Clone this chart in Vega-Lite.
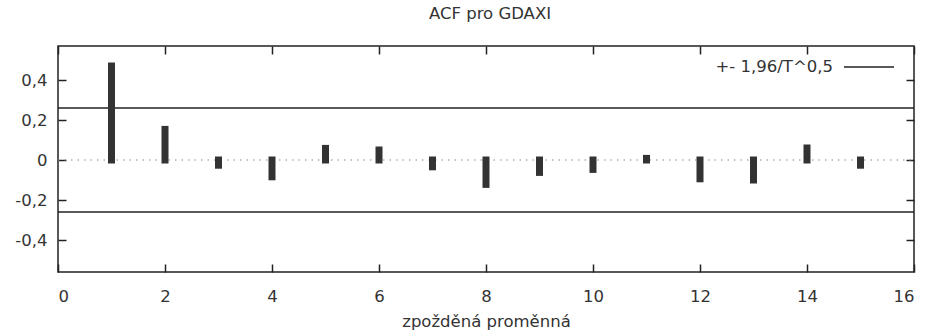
{
  "$schema": "https://vega.github.io/schema/vega-lite/v6.json",
  "width": 856,
  "height": 226,
  "autosize": "none",
  "padding": {"left": 58, "top": 46, "right": 17, "bottom": 63},
  "background": "white",
  "config": {
    "font": "DejaVu Sans",
    "view": {"stroke": "#222", "strokeWidth": 1.5},
    "axis": {"labelFont": "DejaVu Sans", "labelFontSize": 16.5, "labelColor": "#333", "titleFont": "DejaVu Sans", "titleFontSize": 16.5, "titleFontWeight": "normal", "titleColor": "#333", "tickColor": "#222", "tickWidth": 1.5, "tickSize": 8, "grid": false, "domain": false, "ticks": true, "zindex": 1}
  },
  "title": {"text": "ACF pro GDAXI", "fontSize": 16.5, "fontWeight": "normal", "color": "#333", "font": "DejaVu Sans", "offset": 19, "dx": 4},
  "datasets": {
    "acf": [
      {"lag": 1, "acf": 0.47},
      {"lag": 2, "acf": 0.153},
      {"lag": 3, "acf": -0.026},
      {"lag": 4, "acf": -0.084},
      {"lag": 5, "acf": 0.058},
      {"lag": 6, "acf": 0.05},
      {"lag": 7, "acf": -0.034},
      {"lag": 8, "acf": -0.122},
      {"lag": 9, "acf": -0.062},
      {"lag": 10, "acf": -0.047},
      {"lag": 11, "acf": 0.008},
      {"lag": 12, "acf": -0.094},
      {"lag": 13, "acf": -0.1},
      {"lag": 14, "acf": 0.06},
      {"lag": 15, "acf": -0.026}
    ],
    "bands": [
      {"band": 0.26, "series": "+- 1,96/T^0,5"},
      {"band": -0.26, "series": "+- 1,96/T^0,5"}
    ]
  },
  "layer": [
    {
      "data": {"values": [{"z": 0}]},
      "mark": {"type": "rule", "color": "#888", "strokeWidth": 1.2, "strokeDash": [1.5, 5]},
      "encoding": {
        "x": {"datum": 0, "type": "quantitative", "scale": {"domain": [0, 16], "nice": false}, "axis": {"orient": "top", "labels": false, "title": null, "values": [0, 2, 4, 6, 8, 10, 12, 14, 16], "offset": -8}},
        "x2": {"datum": 16},
        "y": {"field": "z", "type": "quantitative", "axis": null}
      }
    },
    {
      "data": {"name": "bands"},
      "mark": {"type": "rule", "strokeWidth": 1.5},
      "encoding": {
        "y": {"field": "band", "type": "quantitative", "scale": {"domain": [-0.56, 0.57], "nice": false, "zero": false}, "axis": {"orient": "right", "labels": false, "title": null, "values": [-0.4, -0.2, 0, 0.2, 0.4], "offset": -8}},
        "color": {"field": "series", "type": "nominal", "scale": {"range": ["#222"]}, "legend": {"title": null, "orient": "none", "legendX": 785, "legendY": -5, "padding": 0, "symbolType": "stroke", "symbolSize": 2500, "symbolStrokeWidth": 1.5, "labelAlign": "right", "labelOffset": -62, "labelFontSize": 16.5, "labelFont": "DejaVu Sans", "labelColor": "#333", "labelLimit": 300}}
      }
    },
    {
      "data": {"name": "acf"},
      "mark": {"type": "rule", "color": "#333", "strokeWidth": 7, "strokeCap": "square"},
      "encoding": {
        "x": {"field": "lag", "type": "quantitative", "scale": {"domain": [0, 16], "nice": false}, "axis": {"orient": "bottom", "title": "zpožděná proměnná", "values": [0, 2, 4, 6, 8, 10, 12, 14, 16], "offset": -8, "labelPadding": 16, "titlePadding": 9}},
        "y": {"field": "acf", "type": "quantitative", "scale": {"domain": [-0.56, 0.57], "nice": false, "zero": false}, "axis": {"orient": "left", "title": null, "values": [-0.4, -0.2, 0, 0.2, 0.4], "offset": -8, "labelPadding": 11, "labelExpr": "replace(toString(round(datum.value*10)/10), '.', ',')"}},
        "y2": {"datum": 0}
      }
    }
  ]
}
